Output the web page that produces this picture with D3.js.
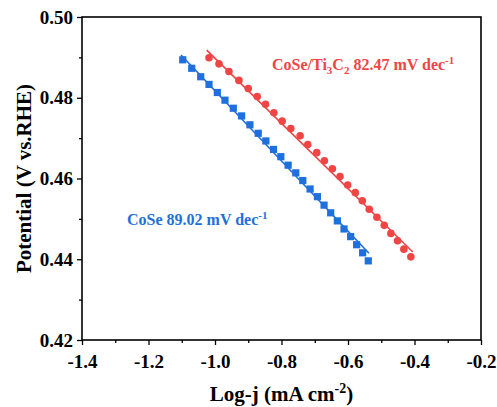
<!DOCTYPE html>
<html>
<head>
<meta charset="utf-8">
<script src="https://cdn.jsdelivr.net/npm/d3@7"></script>
<style>
  body { margin: 0; background: #fff; }
  text { font-family: "Liberation Serif", "Times New Roman", serif; font-weight: bold; }
</style>
</head>
<body>
<div id="chart"></div>
<script>
// CoSe/Ti3C2 (red circles)
const redX = [-1.018, -0.988, -0.958, -0.928, -0.900, -0.873, -0.848, -0.823, -0.798, -0.772, -0.744, -0.721, -0.694,
              -0.671, -0.647, -0.624, -0.601, -0.578, -0.557, -0.536, -0.513, -0.491, -0.471, -0.451, -0.432, -0.411]
const redY = [0.4899, 0.4884, 0.4865, 0.4843, 0.4823, 0.4803, 0.4784, 0.4763, 0.4742, 0.4724, 0.4706, 0.4684, 0.4664,
              0.4644, 0.4624, 0.4605, 0.4584, 0.4565, 0.4545, 0.4524, 0.4504, 0.4484, 0.4464, 0.4446, 0.4425, 0.4406]
// CoSe (blue squares)
const blueX = [-1.097, -1.070, -1.043, -1.018, -0.993, -0.970, -0.945, -0.920, -0.895, -0.870, -0.847, -0.824, -0.802,
               -0.780, -0.757, -0.736, -0.714, -0.692, -0.672, -0.652, -0.632, -0.612, -0.592, -0.574, -0.556, -0.539]
const blueY = [0.4894, 0.4873, 0.4852, 0.4833, 0.4813, 0.4794, 0.4774, 0.4755, 0.4733, 0.4712, 0.4693, 0.4672, 0.4654,
               0.4633, 0.4614, 0.4595, 0.4574, 0.4555, 0.4534, 0.4515, 0.4495, 0.4475, 0.4456, 0.4436, 0.4416, 0.4396]
// fitted lines, end points
const redFitX = [-1.025, -0.405]
const redFitY = [0.4918, 0.4418]
const blueFitX = [-1.102, -0.537]
const blueFitY = [0.4906, 0.4415]

const xTicks = [-1.4, -1.2, -1.0, -0.8, -0.6, -0.4, -0.2]
const yTicks = [0.42, 0.44, 0.46, 0.48, 0.50]

const width = 497
const height = 407
const margin = {top: 17, right: 16, bottom: 67, left: 82}
const w = width - margin.left - margin.right
const h = height - margin.top - margin.bottom

const red = "#ef4545"
const blue = "#1f70dc"

let svg = d3.select("#chart")
    .append("svg")
        .attr("width", width)
        .attr("height", height)
    .append("g")
        .attr("transform", `translate(${margin.left}, ${margin.top})`)

let x = d3.scaleLinear().domain([-1.4, -0.2]).range([0, w])
let y = d3.scaleLinear().domain([0.42, 0.50]).range([h, 0])

// plain hyphen instead of the unicode minus
const fmtX = d => d3.format(".1f")(d).replace("\u2212", "-")
const fmtY = d => d3.format(".2f")(d)

// minor ticks
let xMinor = d3.axisBottom(x).tickValues(d3.range(-1.3, -0.2, 0.2)).tickSize(3).tickFormat("")
let yMinor = d3.axisLeft(y).tickValues(d3.range(0.43, 0.50, 0.02)).tickSize(3).tickFormat("")
svg.append("g").attr("transform", `translate(0, ${h})`).call(xMinor)
svg.append("g").call(yMinor)

let xAxis = svg.append("g")
    .attr("transform", `translate(0, ${h})`)
    .call(d3.axisBottom(x).tickValues(xTicks).tickSize(5).tickPadding(6).tickFormat(fmtX))
let yAxis = svg.append("g")
    .call(d3.axisLeft(y).tickValues(yTicks).tickSize(5).tickPadding(4).tickFormat(fmtY))

svg.selectAll(".domain").remove()
svg.selectAll(".tick line").attr("stroke", "black").attr("stroke-width", 1.3)
xAxis.selectAll("text").attr("font-size", "19px").attr("fill", "black").attr("dy", "0.9em")
yAxis.selectAll("text").attr("font-size", "19px").attr("fill", "black")

// frame
svg.append("rect")
    .attr("x", 0).attr("y", 0)
    .attr("width", w).attr("height", h)
    .attr("fill", "none")
    .attr("stroke", "black")
    .attr("stroke-width", 1.6)

let line = d3.line().x(d => x(d[0])).y(d => y(d[1]))

svg.append("path")
    .datum(d3.zip(redFitX, redFitY))
    .attr("d", line)
    .attr("stroke", red).attr("stroke-width", 1.6).attr("fill", "none")
svg.append("path")
    .datum(d3.zip(blueFitX, blueFitY))
    .attr("d", line)
    .attr("stroke", blue).attr("stroke-width", 1.6).attr("fill", "none")

svg.selectAll("rect.sq")
    .data(d3.zip(blueX, blueY))
    .enter()
    .append("rect")
        .attr("class", "sq")
        .attr("x", d => x(d[0]) - 3.6)
        .attr("y", d => y(d[1]) - 3.6)
        .attr("width", 7.2)
        .attr("height", 7.2)
        .attr("fill", blue)

svg.selectAll("circle")
    .data(d3.zip(redX, redY))
    .enter()
    .append("circle")
        .attr("cx", d => x(d[0]))
        .attr("cy", d => y(d[1]))
        .attr("r", 3.8)
        .attr("fill", red)

// labels
let t1 = svg.append("text")
    .attr("x", 272 - margin.left).attr("y", 70 - margin.top)
    .attr("font-size", "16px").attr("fill", red)
t1.append("tspan").text("CoSe/Ti")
t1.append("tspan").text("3").attr("font-size", "11px").attr("dy", 4)
t1.append("tspan").text("C").attr("dy", -4)
t1.append("tspan").text("2").attr("font-size", "11px").attr("dy", 4)
t1.append("tspan").text(" 82.47 mV dec").attr("dy", -4)
t1.append("tspan").text("-1").attr("font-size", "11px").attr("dy", -6)

let t2 = svg.append("text")
    .attr("x", 127 - margin.left).attr("y", 225 - margin.top)
    .attr("font-size", "16px").attr("fill", blue)
t2.append("tspan").text("CoSe 89.02 mV dec")
t2.append("tspan").text("-1").attr("font-size", "11px").attr("dy", -6)

// axis titles
let xt = svg.append("text")
    .attr("x", w / 2).attr("y", h + 61)
    .attr("text-anchor", "middle")
    .attr("font-size", "21px")
xt.append("tspan").text("Log-j (mA cm")
xt.append("tspan").text("-2").attr("font-size", "14px").attr("dy", -8)
xt.append("tspan").text(")").attr("dy", 8)

svg.append("text")
    .attr("transform", `translate(${-51}, ${h / 2}) rotate(-90)`)
    .attr("text-anchor", "middle")
    .attr("font-size", "21px")
    .text("Potential (V vs.RHE)")
</script>
</body>
</html>
